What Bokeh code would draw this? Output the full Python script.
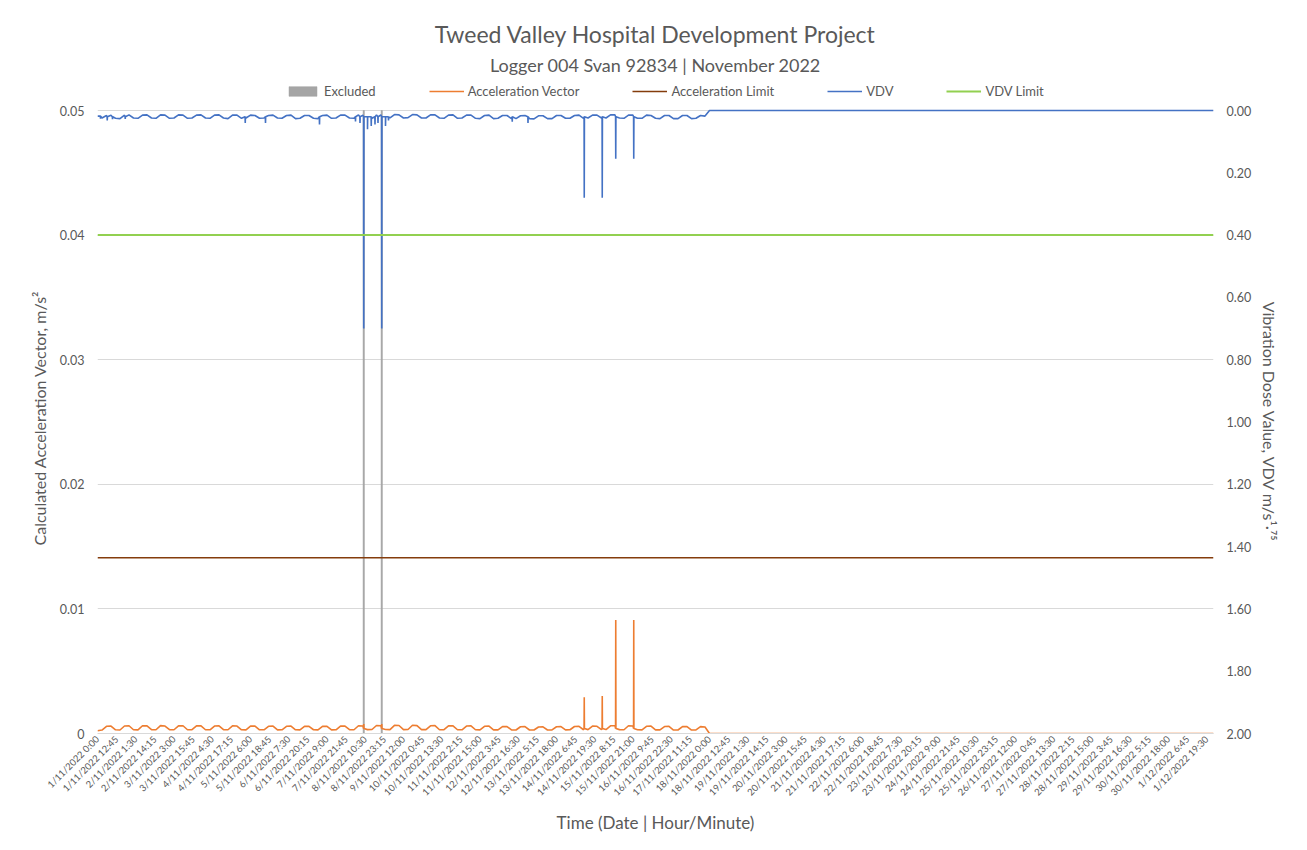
from datetime import datetime
from math import pi

from bokeh.plotting import figure
from bokeh.models import (Range1d, LinearAxis, FixedTicker, Legend, LegendItem,
                          Title, NumeralTickFormatter)
from bokeh.embed import file_html
from bokeh.resources import INLINE

# ---------------- data ----------------
title_text = "Tweed Valley Hospital Development Project"
subtitle_text = "Logger 004 Svan 92834 | November 2022"

x_tick_labels = [
    "1/11/2022 0:00", "1/11/2022 12:45", "2/11/2022 1:30", "2/11/2022 14:15",
    "3/11/2022 3:00", "3/11/2022 15:45", "4/11/2022 4:30", "4/11/2022 17:15",
    "5/11/2022 6:00", "5/11/2022 18:45", "6/11/2022 7:30", "6/11/2022 20:15",
    "7/11/2022 9:00", "7/11/2022 21:45", "8/11/2022 10:30", "8/11/2022 23:15",
    "9/11/2022 12:00", "10/11/2022 0:45", "10/11/2022 13:30", "11/11/2022 2:15",
    "11/11/2022 15:00", "12/11/2022 3:45", "12/11/2022 16:30", "13/11/2022 5:15",
    "13/11/2022 18:00", "14/11/2022 6:45", "14/11/2022 19:30", "15/11/2022 8:15",
    "15/11/2022 21:00", "16/11/2022 9:45", "16/11/2022 22:30", "17/11/2022 11:15",
    "18/11/2022 0:00", "18/11/2022 12:45", "19/11/2022 1:30", "19/11/2022 14:15",
    "20/11/2022 3:00", "20/11/2022 15:45", "21/11/2022 4:30", "21/11/2022 17:15",
    "22/11/2022 6:00", "22/11/2022 18:45", "23/11/2022 7:30", "23/11/2022 20:15",
    "24/11/2022 9:00", "24/11/2022 21:45", "25/11/2022 10:30", "25/11/2022 23:15",
    "26/11/2022 12:00", "27/11/2022 0:45", "27/11/2022 13:30", "28/11/2022 2:15",
    "28/11/2022 15:00", "29/11/2022 3:45", "29/11/2022 16:30", "30/11/2022 5:15",
    "30/11/2022 18:00", "1/12/2022 6:45", "1/12/2022 19:30",
]
start_time = "1/11/2022 0:00"
end_time = "2/12/2022 0:00"

acc_ticks = [0.0, 0.01, 0.02, 0.03, 0.04, 0.05]
acc_tick_labels = ["0", "0.01", "0.02", "0.03", "0.04", "0.05"]
vdv_ticks = [0.0, 0.2, 0.4, 0.6, 0.8, 1.0, 1.2, 1.4, 1.6, 1.8, 2.0]
acc_axis_max = 0.05
vdv_axis_max = 2.0

# sample times (hours from start): every 3 h to 18/11 0:00, then end of month
series_hours = list(range(0, 409, 3)) + [744]

# Acceleration Vector, m/s2 (8 readings per day)
acc_values = [
    0.00022, 0.00028, 0.00058, 0.00060, 0.00030, 0.00028, 0.00060, 0.00062,  # 1/11
    0.00030, 0.00029, 0.00062, 0.00061, 0.00031, 0.00030, 0.00063, 0.00060,  # 2/11
    0.00031, 0.00030, 0.00061, 0.00062, 0.00030, 0.00031, 0.00062, 0.00061,  # 3/11
    0.00030, 0.00030, 0.00060, 0.00062, 0.00031, 0.00030, 0.00061, 0.00060,  # 4/11
    0.00030, 0.00029, 0.00059, 0.00060, 0.00030, 0.00030, 0.00058, 0.00060,  # 5/11
    0.00029, 0.00030, 0.00058, 0.00059, 0.00030, 0.00029, 0.00058, 0.00057,  # 6/11
    0.00030, 0.00029, 0.00057, 0.00058, 0.00029, 0.00030, 0.00060, 0.00059,  # 7/11
    0.00031, 0.00030, 0.00062, 0.00060, 0.00031, 0.00032, 0.00064, 0.00062,  # 8/11
    0.00032, 0.00031, 0.00065, 0.00064, 0.00031, 0.00032, 0.00066, 0.00063,  # 9/11
    0.00031, 0.00031, 0.00062, 0.00063, 0.00030, 0.00031, 0.00062, 0.00061,  # 10/11
    0.00030, 0.00030, 0.00060, 0.00061, 0.00030, 0.00029, 0.00058, 0.00059,  # 11/11
    0.00029, 0.00029, 0.00055, 0.00056, 0.00029, 0.00028, 0.00054, 0.00055,  # 12/11
    0.00028, 0.00028, 0.00052, 0.00053, 0.00028, 0.00029, 0.00054, 0.00055,  # 13/11
    0.00029, 0.00030, 0.00056, 0.00057, 0.00030, 0.00031, 0.00060, 0.00058,  # 14/11
    0.00031, 0.00032, 0.00062, 0.00063, 0.00031, 0.00030, 0.00062, 0.00060,  # 15/11
    0.00030, 0.00029, 0.00058, 0.00059, 0.00029, 0.00029, 0.00056, 0.00057,  # 16/11
    0.00028, 0.00028, 0.00055, 0.00056, 0.00028, 0.00029, 0.00055, 0.00052,  # 17/11
    0.0,  # 18/11 0:00
    0.0,  # 2/12 0:00
]

# VDV, m/s^1.75 (8 readings per day)
vdv_values = [
    0.018, 0.024, 0.016, 0.015, 0.025, 0.026, 0.015, 0.014,  # 1/11
    0.024, 0.025, 0.015, 0.014, 0.024, 0.025, 0.014, 0.015,  # 2/11
    0.025, 0.024, 0.014, 0.015, 0.025, 0.024, 0.015, 0.014,  # 3/11
    0.024, 0.025, 0.015, 0.014, 0.024, 0.026, 0.015, 0.015,  # 4/11
    0.025, 0.024, 0.015, 0.016, 0.025, 0.024, 0.016, 0.015,  # 5/11
    0.024, 0.025, 0.016, 0.015, 0.026, 0.025, 0.016, 0.016,  # 6/11
    0.025, 0.026, 0.016, 0.015, 0.025, 0.024, 0.015, 0.015,  # 7/11
    0.024, 0.025, 0.014, 0.015, 0.024, 0.025, 0.014, 0.014,  # 8/11
    0.023, 0.024, 0.013, 0.014, 0.024, 0.023, 0.013, 0.014,  # 9/11
    0.024, 0.024, 0.014, 0.014, 0.024, 0.025, 0.015, 0.014,  # 10/11
    0.025, 0.024, 0.015, 0.015, 0.025, 0.026, 0.016, 0.015,  # 11/11
    0.026, 0.025, 0.016, 0.016, 0.026, 0.026, 0.017, 0.016,  # 12/11
    0.026, 0.027, 0.017, 0.017, 0.026, 0.026, 0.016, 0.016,  # 13/11
    0.025, 0.025, 0.016, 0.015, 0.025, 0.024, 0.015, 0.015,  # 14/11
    0.024, 0.024, 0.014, 0.014, 0.024, 0.025, 0.015, 0.015,  # 15/11
    0.025, 0.025, 0.015, 0.016, 0.025, 0.026, 0.016, 0.016,  # 16/11
    0.026, 0.026, 0.016, 0.016, 0.026, 0.025, 0.016, 0.018,  # 17/11
    0.0,  # 18/11 0:00
    0.0,  # 2/12 0:00
]

# short events (hours from start, peak, level either side)
acc_spike_hours = [177.5, 189.5, 324.5, 336.5, 345.5, 357.5]
acc_spike_values = [0.00075, 0.00075, 0.0029, 0.0030, 0.0091, 0.0091]
acc_spike_base = [0.00040, 0.00040, 0.00040, 0.00040, 0.00040, 0.00040]

vdv_spike_hours = [2.0, 6.5, 10.0, 18.5, 98.5, 112.0, 148.0, 172.0, 175.0,
                   177.5, 180.0, 182.5, 185.0, 187.0, 189.5, 192.0, 194.0,
                   276.5, 287.0, 324.5, 336.5, 345.5, 357.5]
vdv_spike_values = [0.026, 0.032, 0.028, 0.027, 0.040, 0.040, 0.045, 0.035, 0.040,
                    0.700, 0.060, 0.050, 0.045, 0.040, 0.700, 0.050, 0.032,
                    0.036, 0.040, 0.280, 0.280, 0.155, 0.155]
vdv_spike_base = [0.018, 0.020, 0.020, 0.020, 0.020, 0.020, 0.020, 0.020, 0.020,
                  0.020, 0.020, 0.020, 0.020, 0.020, 0.020, 0.020, 0.020,
                  0.020, 0.020, 0.020, 0.020, 0.020, 0.020]

excluded_hours = [177.5, 189.5]
excluded_top = [0.05, 0.05]

acc_limit = 0.0141
vdv_limit = 0.40

# ---------------- helpers ----------------
FMT = "%d/%m/%Y %H:%M"
t0 = datetime.strptime(start_time, FMT)
t_end = (datetime.strptime(end_time, FMT) - t0).total_seconds() / 3600.0
tick_hours = [(datetime.strptime(s, FMT) - t0).total_seconds() / 3600.0 for s in x_tick_labels]


def merge(hours, values, sp_h, sp_v, sp_b, half=0.12):
    pts = list(zip(hours, values))
    for h, v, b in zip(sp_h, sp_v, sp_b):
        pts += [(h - half, b), (h, v), (h + half, b)]
    pts.sort(key=lambda t: t[0])
    return [a for a, _ in pts], [b for _, b in pts]


acc_x, acc_y = merge(series_hours, acc_values, acc_spike_hours, acc_spike_values, acc_spike_base)
vdv_x, vdv_y = merge(series_hours, vdv_values, vdv_spike_hours, vdv_spike_values, vdv_spike_base)

# ---------------- layout ----------------
FONT = "Lato"
TXT = "#595959"
AXIS_PX = 623          # pixel height of the 0..max part of the value axes
HEAD_PX = 32           # extra room on top of the frame for the legend
FRAME_H = AXIS_PX + HEAD_PX
acc_top = acc_axis_max * FRAME_H / AXIS_PX
vdv_top = vdv_axis_max - vdv_axis_max * FRAME_H / AXIS_PX

p = figure(frame_width=1116, frame_height=FRAME_H, x_range=Range1d(0, t_end),
           y_range=Range1d(0, acc_top),
           output_backend="svg", toolbar_location=None, title=None,
           min_border_left=97, min_border_right=78, min_border_top=78, min_border_bottom=105)
p.outline_line_color = None
p.extra_y_ranges = {"vdv": Range1d(start=vdv_axis_max, end=vdv_top)}

r_exc = p.vbar(x=excluded_hours, top=excluded_top, bottom=0, width=0.9,
               fill_color="#a5a5a5", line_color="#a5a5a5", line_width=0.5)
r_acc = p.line(acc_x, acc_y, line_color="#ED7D31", line_width=1.6)
r_acl = p.line([0, t_end], [acc_limit, acc_limit], line_color="#843C0C", line_width=1.6)
r_vdv = p.line(vdv_x, vdv_y, line_color="#4472C4", line_width=1.6, y_range_name="vdv")
r_vdl = p.line([0, t_end], [vdv_limit, vdv_limit], line_color="#92D050", line_width=2,
               y_range_name="vdv")

# axes
xa = p.xaxis[0]
xa.ticker = FixedTicker(ticks=tick_hours)
xa.major_label_overrides = {h: s for h, s in zip(tick_hours, x_tick_labels)}
xa.major_label_orientation = pi / 4
xa.major_label_text_font = FONT
xa.major_label_text_font_size = "9.5px"
xa.major_label_text_color = TXT
xa.axis_line_color = "#d9d9d9"
xa.major_tick_line_color = None
xa.minor_tick_line_color = None
xa.major_tick_out = 0
xa.major_label_standoff = 4
xa.axis_label = "Time (Date | Hour/Minute)"
xa.axis_label_text_font = FONT
xa.axis_label_text_font_size = "17px"
xa.axis_label_text_font_style = "normal"
xa.axis_label_text_color = TXT
xa.axis_label_standoff = 7

ya = p.yaxis[0]
ya.ticker = FixedTicker(ticks=acc_ticks)
ya.major_label_overrides = {t: s for t, s in zip(acc_ticks, acc_tick_labels)}
# em spaces keep the label centred on the 0..0.05 part of the axis
ya.axis_label = "Calculated Acceleration Vector, m/s\u00b2\u2003\u2003"

yr = LinearAxis(y_range_name="vdv", ticker=FixedTicker(ticks=vdv_ticks),
                formatter=NumeralTickFormatter(format="0.00"))
yr.axis_label = "\u2003\u2003\u2002Vibration Dose Value, VDV m/s\u00b9\u00b7\u2077\u2075"
p.add_layout(yr, "right")

for ax in (ya, yr):
    ax.axis_line_color = None
    ax.major_tick_line_color = None
    ax.minor_tick_line_color = None
    ax.major_tick_out = 0
    ax.major_label_standoff = 13
    ax.major_label_text_font = FONT
    ax.major_label_text_font_size = "12.5px"
    ax.major_label_text_color = TXT
    ax.axis_label_text_font = FONT
    ax.axis_label_text_font_style = "normal"
    ax.axis_label_text_color = TXT
    ax.axis_label_text_font_size = "16px"
ya.axis_label_standoff = 8
yr.axis_label_standoff = 6

p.xgrid.visible = False
p.ygrid.ticker = FixedTicker(ticks=acc_ticks)
p.ygrid.grid_line_color = "#d9d9d9"
p.ygrid.grid_line_width = 1

# legend (inside the top strip of the frame)
legend = Legend(items=[
    LegendItem(label="Excluded", renderers=[r_exc]),
    LegendItem(label="Acceleration Vector", renderers=[r_acc]),
    LegendItem(label="Acceleration Limit", renderers=[r_acl]),
    LegendItem(label="VDV", renderers=[r_vdv]),
    LegendItem(label="VDV Limit", renderers=[r_vdl]),
], orientation="horizontal", location=(188, FRAME_H - 21), spacing=53, glyph_width=35,
    glyph_height=12, label_height=14, label_standoff=4, label_text_font=FONT,
    label_text_font_size="13px", label_text_color=TXT, border_line_color=None,
    background_fill_alpha=0, padding=2, margin=0)
p.add_layout(legend, "center")

p.add_layout(Title(text=subtitle_text, align="center", text_font=FONT, text_font_size="18px",
                   text_font_style="normal", text_color=TXT, standoff=5), "above")
p.add_layout(Title(text=title_text, align="center", text_font=FONT, text_font_size="23px",
                   text_font_style="normal", text_color=TXT, standoff=3), "above")

open("out.html", "w").write(file_html(p, INLINE))
